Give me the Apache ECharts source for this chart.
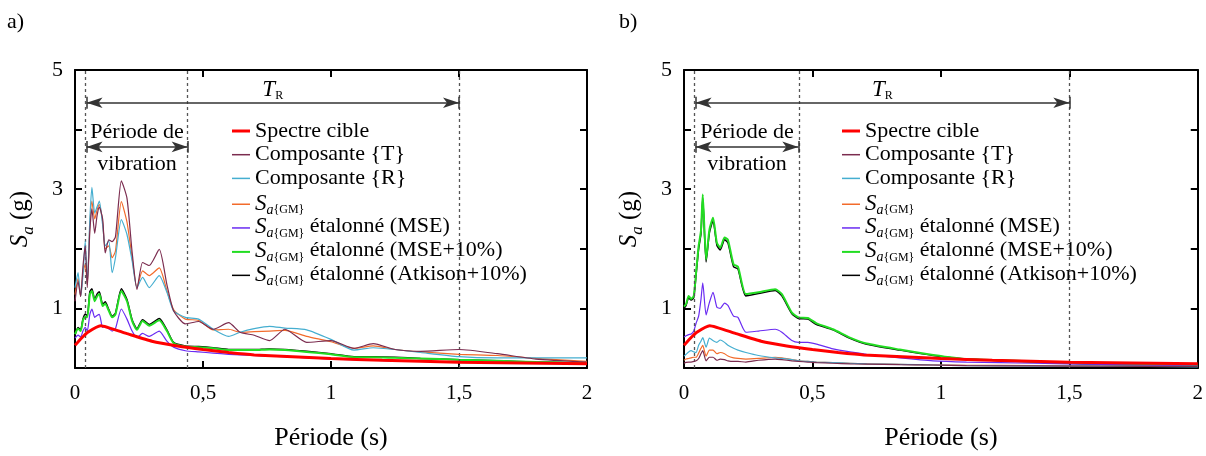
<!DOCTYPE html>
<html><head><meta charset="utf-8">
<script src="https://cdn.jsdelivr.net/npm/echarts@6/dist/echarts.min.js"></script>
<style>html,body{margin:0;padding:0;background:#fff}#c{width:1206px;height:456px}</style>
</head><body><div id="c"></div>
<script>
// ---- data (periods in s, Sa in g) ----
const targetPeriods = [0, 0.025, 0.05, 0.1, 0.2, 0.3, 0.4, 0.5, 0.6, 0.7, 1.0, 1.2, 1.5, 2.0];
const targetSa = [0.38, 0.5, 0.6, 0.71, 0.58, 0.45, 0.37, 0.31, 0.26, 0.22, 0.16, 0.13, 0.095, 0.07];

const periodsA = [0, 0.012, 0.022, 0.031, 0.040, 0.048, 0.058, 0.066, 0.077, 0.086, 0.095, 0.108, 0.118, 0.132, 0.145, 0.158, 0.181, 0.203, 0.223, 0.242, 0.264, 0.29, 0.329, 0.359, 0.385, 0.431, 0.483, 0.54, 0.6, 0.645, 0.7, 0.76, 0.82, 0.905, 1.0, 1.09, 1.165, 1.25, 1.35, 1.5, 1.65, 1.8, 2.0];
const compT_A = [1.12, 1.45, 1.2, 1.7, 2.05, 1.35, 2.3, 2.67, 2.26, 2.55, 2.7, 2.5, 1.93, 2.15, 2.12, 2.2, 3.14, 2.85, 1.95, 1.32, 1.77, 1.72, 1.99, 1.4, 0.96, 0.74, 0.78, 0.65, 0.76, 0.6, 0.55, 0.46, 0.65, 0.43, 0.46, 0.33, 0.41, 0.31, 0.28, 0.31, 0.24, 0.15, 0.1];
const compR_A = [1.35, 1.6, 1.2, 1.55, 2.13, 1.4, 2.5, 3.03, 2.6, 2.7, 2.8, 2.4, 2.05, 2.13, 1.6, 1.85, 2.49, 2.24, 1.8, 1.35, 1.52, 1.35, 1.55, 1.27, 0.96, 0.85, 0.82, 0.65, 0.53, 0.6, 0.66, 0.7, 0.67, 0.64, 0.48, 0.3, 0.34, 0.31, 0.26, 0.19, 0.17, 0.17, 0.17];
const gm_A = [1.23, 1.5, 1.2, 1.6, 1.74, 1.4, 2.4, 2.8, 2.5, 2.65, 2.74, 2.45, 2.0, 2.05, 1.85, 1.96, 2.79, 2.45, 1.85, 1.35, 1.63, 1.55, 1.68, 1.3, 0.98, 0.82, 0.8, 0.64, 0.65, 0.6, 0.61, 0.62, 0.63, 0.53, 0.44, 0.33, 0.37, 0.31, 0.27, 0.23, 0.21, 0.16, 0.11];
const mse_A = [0.5, 0.55, 0.52, 0.62, 0.68, 0.62, 0.9, 0.99, 0.85, 0.88, 0.9, 0.68, 0.7, 0.66, 0.62, 0.66, 0.99, 0.82, 0.62, 0.51, 0.58, 0.53, 0.62, 0.45, 0.35, 0.29, 0.27, 0.25, 0.23, 0.22, 0.21, 0.2, 0.19, 0.17, 0.15, 0.14, 0.13, 0.12, 0.11, 0.1, 0.09, 0.08, 0.07];
const mse10_A = [0.57, 0.66, 0.62, 0.8, 0.86, 0.85, 1.24, 1.29, 1.12, 1.2, 1.24, 1.04, 1.08, 0.96, 0.85, 0.9, 1.29, 1.12, 0.79, 0.64, 0.79, 0.71, 0.8, 0.62, 0.42, 0.36, 0.35, 0.33, 0.3, 0.3, 0.3, 0.31, 0.3, 0.27, 0.23, 0.18, 0.18, 0.17, 0.16, 0.14, 0.12, 0.1, 0.08];
const atk_A = [0.55, 0.68, 0.64, 0.82, 0.9, 0.88, 1.28, 1.33, 1.15, 1.24, 1.28, 1.07, 1.11, 0.98, 0.87, 0.92, 1.33, 1.15, 0.81, 0.66, 0.81, 0.73, 0.83, 0.64, 0.43, 0.37, 0.36, 0.34, 0.31, 0.31, 0.31, 0.32, 0.31, 0.28, 0.24, 0.19, 0.19, 0.18, 0.16, 0.14, 0.12, 0.1, 0.08];

const periodsB = [0, 0.008, 0.018, 0.028, 0.038, 0.047, 0.057, 0.066, 0.073, 0.086, 0.099, 0.113, 0.128, 0.141, 0.158, 0.171, 0.193, 0.21, 0.241, 0.29, 0.355, 0.381, 0.42, 0.446, 0.482, 0.516, 0.58, 0.646, 0.711, 0.84, 0.97, 1.1, 1.36, 1.62, 2.0];
const compT_B = [0.08, 0.095, 0.1, 0.1, 0.11, 0.12, 0.16, 0.24, 0.29, 0.12, 0.18, 0.18, 0.13, 0.15, 0.14, 0.12, 0.11, 0.11, 0.1, 0.13, 0.15, 0.14, 0.12, 0.11, 0.1, 0.09, 0.08, 0.07, 0.065, 0.055, 0.05, 0.04, 0.035, 0.03, 0.025];
const compR_B = [0.2, 0.23, 0.27, 0.29, 0.27, 0.26, 0.38, 0.45, 0.51, 0.35, 0.5, 0.46, 0.43, 0.47, 0.43, 0.38, 0.33, 0.3, 0.26, 0.21, 0.17, 0.16, 0.14, 0.12, 0.11, 0.1, 0.09, 0.08, 0.07, 0.06, 0.05, 0.04, 0.03, 0.03, 0.02];
const gm_B = [0.13, 0.15, 0.16, 0.17, 0.18, 0.18, 0.25, 0.33, 0.38, 0.2, 0.3, 0.3, 0.24, 0.26, 0.24, 0.2, 0.17, 0.16, 0.15, 0.16, 0.18, 0.17, 0.14, 0.12, 0.11, 0.1, 0.09, 0.08, 0.07, 0.06, 0.05, 0.045, 0.04, 0.03, 0.025];
const mse_B = [0.52, 0.54, 0.56, 0.57, 0.62, 0.75, 0.87, 1.15, 1.43, 0.89, 1.1, 1.27, 1.02, 1.0, 1.09, 1.05, 0.87, 0.85, 0.6, 0.62, 0.65, 0.6, 0.46, 0.43, 0.43, 0.4, 0.32, 0.27, 0.23, 0.17, 0.12, 0.1, 0.08, 0.06, 0.03];
const mse10_B = [1.03, 1.07, 1.21, 1.16, 1.21, 1.6, 2.05, 2.3, 2.91, 1.82, 2.32, 2.52, 2.1, 2.02, 2.19, 2.15, 1.74, 1.7, 1.24, 1.27, 1.32, 1.24, 0.93, 0.85, 0.84, 0.75, 0.65, 0.51, 0.41, 0.31, 0.22, 0.15, 0.11, 0.067, 0.04];
const atk_B = [1.0, 1.05, 1.18, 1.14, 1.18, 1.56, 2.0, 2.25, 2.85, 1.78, 2.27, 2.47, 2.06, 1.98, 2.15, 2.1, 1.7, 1.66, 1.21, 1.25, 1.3, 1.21, 0.91, 0.83, 0.82, 0.73, 0.64, 0.5, 0.4, 0.3, 0.21, 0.15, 0.1, 0.065, 0.04];

// reference periods for annotations: [start of vibration band, end of band, end of T_R]
const markersA = [0.045, 0.44, 1.5];
const markersB = [0.045, 0.445, 1.5];

const names = ['Spectre cible', 'Composante {T}', 'Composante {R}', 'Sa{GM}', 'Sa{GM} étalonné (MSE)', 'Sa{GM} étalonné (MSE+10%)', 'Sa{GM} étalonné (Atkison+10%)'];
const colors = ['#ff0000', '#7b2c4f', '#45aed0', '#f26b2b', '#6a2cf2', '#22dd22', '#000000'];

const FONT = 'Liberation Serif';
function pairs(xs, ys) { return xs.map((x, i) => [x, ys[i]]); }

function panelSeries(ax, periods, cT, cR, gm, mse, mse10, atk, mk) {
  const mk0 = (name, xs, ys, ci, w, z, sm) => ({
    type: 'line', name, data: pairs(xs, ys), xAxisIndex: ax, yAxisIndex: ax,
    symbol: 'none', showSymbol: false, smooth: sm, color: colors[ci], lineStyle: { color: colors[ci], width: w },
    z, animation: false, silent: true
  });
  const list = [
    mk0(names[6], periods, atk, 6, 1.5, 2, 0.2),
    mk0(names[5], periods, mse10, 5, 2, 3, 0.2),
    mk0(names[4], periods, mse, 4, 1.2, 4, 0.2),
    mk0(names[3], periods, gm, 3, 1.2, 5, 0.2),
    mk0(names[2], periods, cR, 2, 1.2, 6, 0.2),
    mk0(names[1], periods, cT, 1, 1.2, 7, 0.2),
    mk0(names[0], targetPeriods, targetSa, 0, 3, 8, 0.15)
  ];
  const yTR = 4.45, yV = 3.71;
  list.push({ type: 'line', xAxisIndex: ax, yAxisIndex: ax, data: [], silent: true, z: 1,
    markLine: { silent: true, animation: false, symbol: 'none', label: { show: false },
      lineStyle: { type: [3, 3], color: '#555', width: 1.3 },
      data: mk.map(v => ({ xAxis: v })) } });
  list.push({ type: 'line', xAxisIndex: ax, yAxisIndex: ax, data: [], silent: true, z: 9,
    markLine: { silent: true, animation: false, symbol: 'none', label: { show: false },
      lineStyle: { type: 'solid', color: '#333', width: 1.5 },
      data: [
        [{ coord: [mk[0], yTR + 0.1] }, { coord: [mk[0], yTR - 0.1] }],
        [{ coord: [mk[2], yTR + 0.1] }, { coord: [mk[2], yTR - 0.1] }],
        [{ coord: [mk[0], yV + 0.1] }, { coord: [mk[0], yV - 0.1] }],
        [{ coord: [mk[1], yV + 0.1] }, { coord: [mk[1], yV - 0.1] }]
      ] } });
  list.push({ type: 'line', xAxisIndex: ax, yAxisIndex: ax, data: [], silent: true, z: 9,
    markLine: { silent: true, animation: false, symbol: ['arrow', 'arrow'], symbolSize: [8, 16],
      lineStyle: { type: 'solid', color: '#333', width: 1.5 },
      label: { show: true, position: 'insideMiddleTop', distance: 4, formatter: p => p.name,
        color: '#000', fontFamily: FONT, fontSize: 22, lineHeight: 22,
        rich: {
          i: { fontFamily: FONT, fontSize: 23, fontStyle: 'italic', lineHeight: 23, verticalAlign: 'top', color: '#000' },
          s: { fontFamily: FONT, fontSize: 12, lineHeight: 23, verticalAlign: 'bottom', color: '#000' }
        } },
      data: [
        [{ name: '{i|T}{s|R}', coord: [mk[0], yTR], label: { distance: 1 } }, { coord: [mk[2], yTR] }],
        [{ name: 'Période de', coord: [mk[0], yV], label: { distance: 4 } }, { coord: [mk[1], yV] }]
      ] } });
  list.push({ type: 'line', xAxisIndex: ax, yAxisIndex: ax, data: [], silent: true, z: 9,
    markLine: { silent: true, animation: false, symbol: 'none',
      lineStyle: { color: 'rgba(0,0,0,0)', width: 0 },
      label: { show: true, position: 'insideMiddleBottom', distance: 6, formatter: p => p.name,
        color: '#000', fontFamily: FONT, fontSize: 22, lineHeight: 22 },
      data: [[{ name: 'vibration', coord: [mk[0], yV] }, { coord: [mk[1], yV] }]] } });
  return list;
}

function xAx(grid, pos) {
  return { type: 'value', gridIndex: grid, position: pos, min: 0, max: 2, interval: 0.5,
    axisLine: { show: true, onZero: false, lineStyle: { color: '#000', width: 2 } },
    axisTick: { show: true, inside: true, length: 7, lineStyle: { color: '#000', width: 2 } },
    splitLine: { show: false },
    axisLabel: pos === 'bottom' ? { show: true, margin: 15, color: '#000', fontFamily: FONT, fontSize: 21,
      formatter: v => String(v).replace('.', ',') } : { show: false },
    name: pos === 'bottom' ? 'Période (s)' : '', nameLocation: 'middle', nameGap: 57,
    nameTextStyle: { color: '#000', fontFamily: FONT, fontSize: 26 } };
}
function yAx(grid, pos) {
  return { type: 'value', gridIndex: grid, position: pos, min: 0, max: 5, interval: 1,
    axisLine: { show: true, onZero: false, lineStyle: { color: '#000', width: 2 } },
    axisTick: { show: true, inside: true, length: 7, lineStyle: { color: '#000', width: 2 } },
    splitLine: { show: false },
    axisLabel: pos === 'left' ? { show: true, margin: 12, color: '#000', fontFamily: FONT, fontSize: 22,
      formatter: v => (v % 2 === 1 ? String(v) : '') } : { show: false },
    name: pos === 'left' ? '{S|S}{a|a}{n| (g)}' : '', nameLocation: 'middle', nameGap: 38, nameRotate: 90,
    nameTextStyle: { color: '#000', fontFamily: FONT, fontSize: 25,
      rich: {
        S: { fontFamily: FONT, fontSize: 25, fontStyle: 'italic', lineHeight: 29, verticalAlign: 'top', color: '#000' },
        a: { fontFamily: FONT, fontSize: 17, fontStyle: 'italic', lineHeight: 29, verticalAlign: 'bottom', color: '#000' },
        n: { fontFamily: FONT, fontSize: 25, lineHeight: 29, verticalAlign: 'top', color: '#000' }
      } } };
}

function legendsFor(left) {
  const sub = {
    S: { fontFamily: FONT, fontSize: 23, fontStyle: 'italic', verticalAlign: 'top', color: '#000' },
    a: { fontFamily: FONT, fontSize: 14, fontStyle: 'italic', color: '#000' },
    n: { fontFamily: FONT, fontSize: 22, verticalAlign: 'top', color: '#000' }
  };
  const iconTop = t => 'path://M0,0L18,0L18,' + t + 'L0,' + t + 'ZM0,13';
  const iconMid = t => 'path://M0,' + (6 - t / 2) + 'L18,' + (6 - t / 2) + 'L18,' + (6 + t / 2) + 'L0,' + (6 + t / 2) + 'ZM0,0M0,12';
  return [
    { orient: 'vertical', left, top: 120, padding: 0, itemWidth: 18, itemHeight: 12, itemGap: 1.7,
      selectedMode: false,
      data: [
        { name: names[0], icon: iconMid(3) },
        { name: names[1], icon: iconMid(1.5) },
        { name: names[2], icon: iconMid(1.5) }
      ],
      textStyle: { color: '#000', fontFamily: FONT, fontSize: 22, lineHeight: 22 } },
    { orient: 'vertical', left, top: 192, padding: 0, itemWidth: 18, itemHeight: 13, itemGap: -12.3,
      selectedMode: false,
      data: [
        { name: names[3], icon: iconTop(1.5) },
        { name: names[4], icon: iconTop(1.5) },
        { name: names[5], icon: iconTop(2) },
        { name: names[6], icon: iconTop(1.5) }
      ],
      formatter: name => { const rest = name.slice(6); return '{S|S}{a|a}{GM}' + (rest ? '{n|' + rest + '}' : ''); },
      textStyle: { color: '#000', fontFamily: FONT, fontSize: 12, lineHeight: 36, rich: sub } }
  ];
}

const chart = echarts.init(document.getElementById('c'), null, { renderer: 'canvas' });
chart.setOption({
  backgroundColor: '#fff',
  animation: false,
  title: [
    { text: 'a)', left: 7, top: 11, padding: 0, textStyle: { fontFamily: FONT, fontSize: 22, fontWeight: 'normal', color: '#000' } },
    { text: 'b)', left: 619, top: 11, padding: 0, textStyle: { fontFamily: FONT, fontSize: 22, fontWeight: 'normal', color: '#000' } }
  ],
  grid: [
    { left: 75, top: 70, width: 512, height: 299, containLabel: false },
    { left: 684, top: 70, width: 514, height: 299, containLabel: false }
  ],
  xAxis: [xAx(0, 'bottom'), xAx(0, 'top'), xAx(1, 'bottom'), xAx(1, 'top')],
  yAxis: [yAx(0, 'left'), yAx(0, 'right'), yAx(1, 'left'), yAx(1, 'right')],
  legend: legendsFor(232).concat(legendsFor(842)),
  series: panelSeries(0, periodsA, compT_A, compR_A, gm_A, mse_A, mse10_A, atk_A, markersA)
    .concat(panelSeries(2, periodsB, compT_B, compR_B, gm_B, mse_B, mse10_B, atk_B, markersB))
});
</script></body></html>
